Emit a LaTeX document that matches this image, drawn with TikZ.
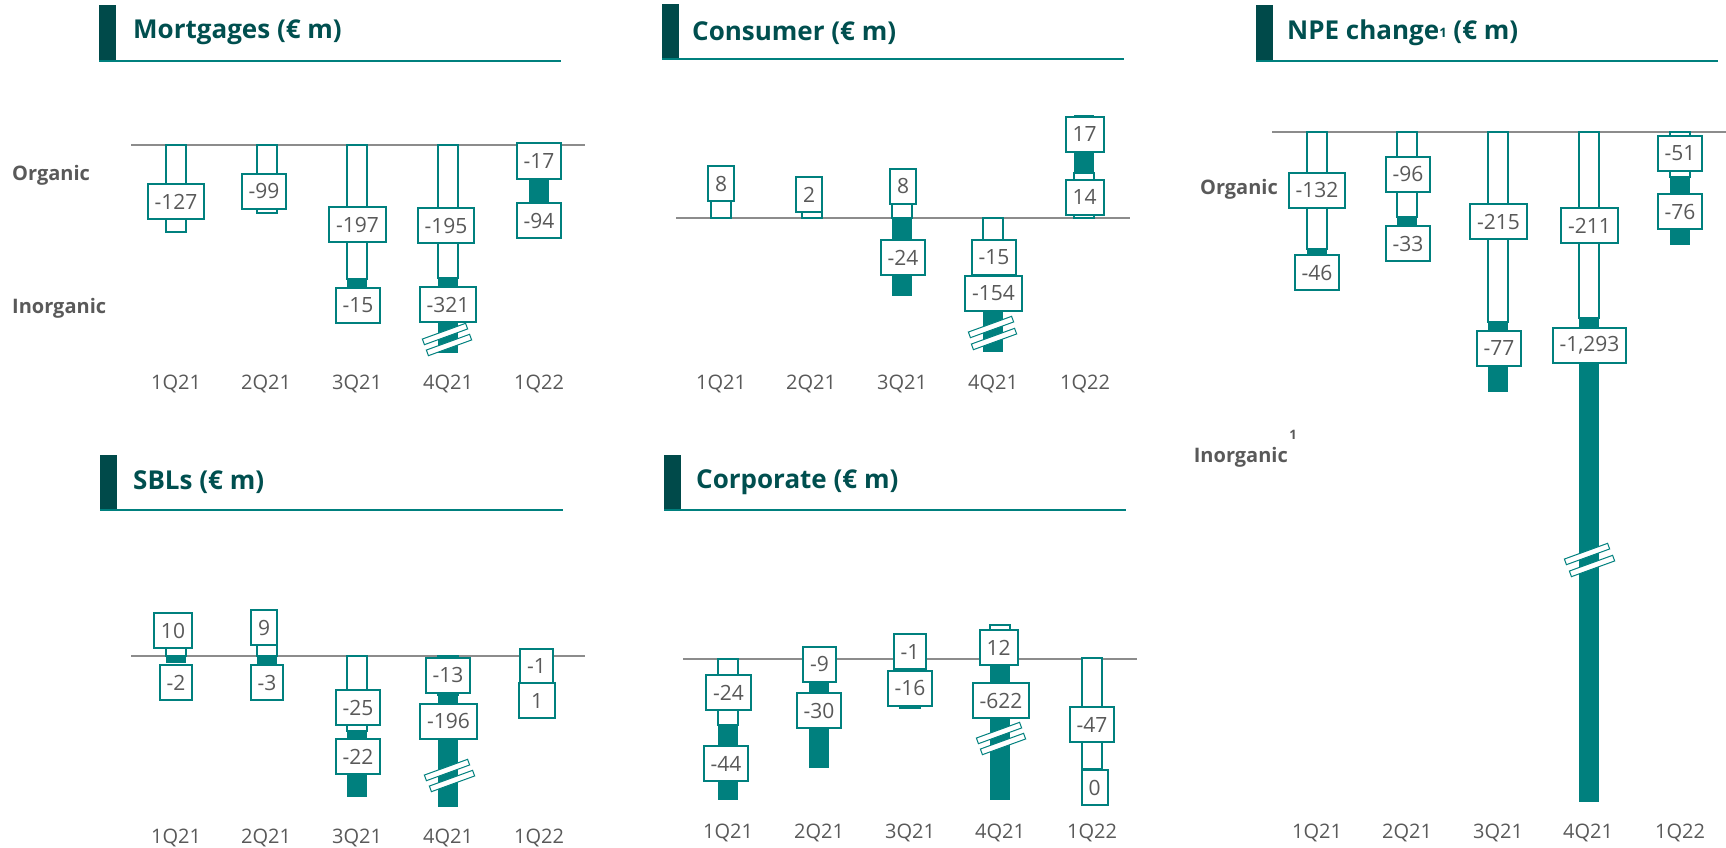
\documentclass[tikz,border=0pt]{standalone}
\usepackage{fontspec}
\setmainfont{Open Sans}
\usepackage{tikz}

\definecolor{barteal}{RGB}{0,128,126}
\definecolor{blockteal}{RGB}{0,74,74}
\definecolor{headteal}{RGB}{0,79,79}
\definecolor{axisgray}{RGB}{140,140,140}
\definecolor{txtgray}{RGB}{89,89,89}

\tikzset{
  org/.style={draw=barteal, line width=2pt, fill=white},
  inorg/.style={fill=barteal},
  valbox/.style={draw=barteal, line width=2pt, fill=white, text=txtgray,
    font=\fontsize{21}{25}\selectfont, inner xsep=7pt, inner ysep=0pt, minimum height=35pt},
  brk/.style={draw=barteal, line width=1pt, fill=white, minimum width=46pt,
    minimum height=6pt, inner sep=0pt, rotate=20},
  qlabel/.style={text=txtgray, font=\fontsize{20}{24}\selectfont, anchor=base, inner sep=0pt},
  rowlabel/.style={text=txtgray, font=\fontsize{20}{24}\selectfont\bfseries, inner sep=0pt},
  heading/.style={text=headteal, font=\fontsize{26}{30}\selectfont\bfseries, anchor=base west, inner sep=0pt},
  zeroline/.style={draw=axisgray, line width=2pt},
  headbar/.style={fill=blockteal},
  headline/.style={draw=barteal, line width=2.5pt}
}

\begin{document}
\begin{tikzpicture}[x=1pt, y=-1pt]
    \useasboundingbox (0,0) rectangle (1726,848);

    % headings
    \fill[headbar] (99,5) rectangle (116,62);
    \draw[headline] (99,61) -- (561,61);
    \node[heading] (hmort) at (133,39) {Mortgages (€ m)};
    \fill[headbar] (662,4) rectangle (679,60);
    \draw[headline] (662,59) -- (1124,59);
    \node[heading] (hcons) at (692,41) {Consumer (€ m)};
    \fill[headbar] (1256,5) rectangle (1273,61);
    \draw[headline] (1256,61) -- (1718,61);
    \node[heading] (hnpe) at (1287,40) {NPE change{\fontsize{13}{13}\selectfont\raisebox{2pt}{1}} (€ m)};
    \fill[headbar] (100,455) rectangle (117,511);
    \draw[headline] (100,510) -- (563,510);
    \node[heading] (hsbl) at (133,489) {SBLs (€ m)};
    \fill[headbar] (664,455) rectangle (681,511);
    \draw[headline] (664,510) -- (1126,510);
    \node[heading] (hcorp) at (696,488) {Corporate (€ m)};

    % row labels
    \node[rowlabel, anchor=base west] (morg) at (12,180) {Organic};
    \node[rowlabel, anchor=base west] (minorg) at (12,313) {Inorganic};
    \node[rowlabel, anchor=base east] (norg) at (1278,194) {Organic};
    \node[rowlabel, anchor=base east] (ninorg) at (1288,462) {Inorganic};
    \node[text=txtgray, font=\fontsize{13}{13}\selectfont\bfseries, inner sep=0pt] (nfoot) at (1293,435) {1};

    % Mortgages
    \draw[zeroline] (131,145) -- (585,145);
    \draw[org] (166,145) rectangle (186,232);
    \draw[org] (257,145) rectangle (277,213);
    \draw[org] (347,145) rectangle (367,279);
    \fill[inorg] (347,279) rectangle (367,290);
    \draw[org] (438,145) rectangle (458,278);
    \fill[inorg] (438,278) rectangle (458,353);
    \fill[inorg] (529,157) rectangle (549,220);
    \node[brk] (mbrka) at (445,334) {};
    \node[brk] (mbrkb) at (449,345) {};
    \node[valbox] (m1a) at (176,201.5) {-127};
    \node[valbox] (m2a) at (264,191) {-99};
    \node[valbox] (m3a) at (357.5,224.5) {-197};
    \node[valbox] (m3b) at (358,305.5) {-15};
    \node[valbox] (m4a) at (446,225.5) {-195};
    \node[valbox] (m4b) at (448,304.5) {-321};
    \node[valbox] (m5a) at (539,161) {-17};
    \node[valbox] (m5b) at (539,220.5) {-94};
    \node[qlabel] (mq1) at (176,389) {1Q21};
    \node[qlabel] (mq2) at (266,389) {2Q21};
    \node[qlabel] (mq3) at (357,389) {3Q21};
    \node[qlabel] (mq4) at (448,389) {4Q21};
    \node[qlabel] (mq5) at (539,389) {1Q22};

    % Consumer
    \draw[zeroline] (676,218) -- (1130,218);
    \draw[org] (711,218) rectangle (731,192);
    \draw[org] (802,218) rectangle (822,211);
    \draw[org] (892,218) rectangle (912,192);
    \fill[inorg] (892,218) rectangle (912,296);
    \draw[org] (983,218) rectangle (1003,267);
    \fill[inorg] (983,267) rectangle (1003,352);
    \draw[org] (1074,218) rectangle (1094,173);
    \fill[inorg] (1074,173) rectangle (1094,115);
    \node[brk] (cbrka) at (991,327) {};
    \node[brk] (cbrkb) at (994,339) {};
    \node[valbox] (c1a) at (721,183.5) {8};
    \node[valbox] (c2a) at (809,194.5) {2};
    \node[valbox] (c3a) at (903,186) {8};
    \node[valbox] (c3b) at (903,257.5) {-24};
    \node[valbox] (c4a) at (994,257) {-15};
    \node[valbox] (c4b) at (993.5,293.5) {-154};
    \node[valbox] (c5a) at (1084.5,134.5) {17};
    \node[valbox] (c5b) at (1084.5,197) {14};
    \node[qlabel] (cq1) at (721,389) {1Q21};
    \node[qlabel] (cq2) at (811,389) {2Q21};
    \node[qlabel] (cq3) at (902,389) {3Q21};
    \node[qlabel] (cq4) at (993,389) {4Q21};
    \node[qlabel] (cq5) at (1085,389) {1Q22};

    % NPE change
    \draw[zeroline] (1272,132) -- (1726,132);
    \draw[org] (1307,132) rectangle (1327,249);
    \fill[inorg] (1307,249) rectangle (1327,290);
    \draw[org] (1397,132) rectangle (1417,217);
    \fill[inorg] (1397,217) rectangle (1417,246);
    \draw[org] (1488,132) rectangle (1508,322);
    \fill[inorg] (1488,322) rectangle (1508,392);
    \draw[org] (1579,132) rectangle (1599,318);
    \fill[inorg] (1579,318) rectangle (1599,802);
    \draw[org] (1670,132) rectangle (1690,177);
    \fill[inorg] (1670,177) rectangle (1690,245);
    \node[brk] (nbrka) at (1587,554) {};
    \node[brk] (nbrkb) at (1592,566) {};
    \node[valbox] (n1a) at (1317,190) {-132};
    \node[valbox] (n1b) at (1317,272.5) {-46};
    \node[valbox] (n2a) at (1408,174) {-96};
    \node[valbox] (n2b) at (1408,243.5) {-33};
    \node[valbox] (n3a) at (1498.5,221.5) {-215};
    \node[valbox] (n3b) at (1499,348.5) {-77};
    \node[valbox] (n4a) at (1589.5,225.5) {-211};
    \node[valbox] (n4b) at (1589.5,345.5) {-1,293};
    \node[valbox] (n5a) at (1680,153.5) {-51};
    \node[valbox] (n5b) at (1680,211.5) {-76};
    \node[qlabel] (nq1) at (1317,838) {1Q21};
    \node[qlabel] (nq2) at (1407,838) {2Q21};
    \node[qlabel] (nq3) at (1498,838) {3Q21};
    \node[qlabel] (nq4) at (1588,838) {4Q21};
    \node[qlabel] (nq5) at (1680,838) {1Q22};

    % SBLs
    \draw[zeroline] (131,656) -- (585,656);
    \draw[org] (166,656) rectangle (186,626);
    \fill[inorg] (166,656) rectangle (186,663);
    \draw[org] (257,656) rectangle (277,629);
    \fill[inorg] (257,656) rectangle (277,665);
    \draw[org] (347,656) rectangle (367,731);
    \fill[inorg] (347,731) rectangle (367,797);
    \draw[org] (438,656) rectangle (458,695);
    \fill[inorg] (438,695) rectangle (458,807);
    \node[brk] (sbrka) at (447,770) {};
    \node[brk] (sbrkb) at (452,781) {};
    \node[valbox] (s1a) at (173,630.5) {10};
    \node[valbox] (s1b) at (176,682.5) {-2};
    \node[valbox] (s2a) at (264,627.5) {9};
    \node[valbox] (s2b) at (267,682.5) {-3};
    \node[valbox] (s3a) at (358,707.5) {-25};
    \node[valbox] (s3b) at (358,756.5) {-22};
    \node[valbox] (s4a) at (448,675) {-13};
    \node[valbox] (s4b) at (448.5,721) {-196};
    \node[valbox] (s5a) at (536.5,666) {-1};
    \node[valbox, minimum width=36pt] (s5b) at (537,700.5) {1};
    \node[qlabel] (sq1) at (176,843) {1Q21};
    \node[qlabel] (sq2) at (266,843) {2Q21};
    \node[qlabel] (sq3) at (357,843) {3Q21};
    \node[qlabel] (sq4) at (448,843) {4Q21};
    \node[qlabel] (sq5) at (539,843) {1Q22};

    % Corporate
    \draw[zeroline] (683,659) -- (1137,659);
    \draw[org] (718,659) rectangle (738,725);
    \fill[inorg] (718,725) rectangle (738,800);
    \draw[org] (809,659) rectangle (829,678);
    \fill[inorg] (809,678) rectangle (829,768);
    \draw[org] (900,659) rectangle (920,708);
    \fill[inorg] (990,659) rectangle (1010,800);
    \draw[org] (990,659) rectangle (1010,625);
    \draw[org] (1082,658) rectangle (1102,769);
    \node[brk] (kbrka) at (999,733) {};
    \node[brk] (kbrkb) at (1003,744) {};
    \node[valbox] (k1a) at (728.5,692.5) {-24};
    \node[valbox] (k1b) at (726,763.5) {-44};
    \node[valbox] (k2a) at (819.5,664) {-9};
    \node[valbox] (k2b) at (819,710.5) {-30};
    \node[valbox] (k3a) at (910,651.5) {-1};
    \node[valbox] (k3b) at (910,688) {-16};
    \node[valbox] (k4a) at (998.5,647.5) {12};
    \node[valbox] (k4b) at (1001,700.5) {-622};
    \node[valbox] (k5a) at (1092,724.5) {-47};
    \node[valbox] (k5b) at (1094.5,787.5) {0};
    \node[qlabel] (kq1) at (728,838) {1Q21};
    \node[qlabel] (kq2) at (819,838) {2Q21};
    \node[qlabel] (kq3) at (910,838) {3Q21};
    \node[qlabel] (kq4) at (1000,838) {4Q21};
    \node[qlabel] (kq5) at (1092,838) {1Q22};
\end{tikzpicture}
\end{document}
